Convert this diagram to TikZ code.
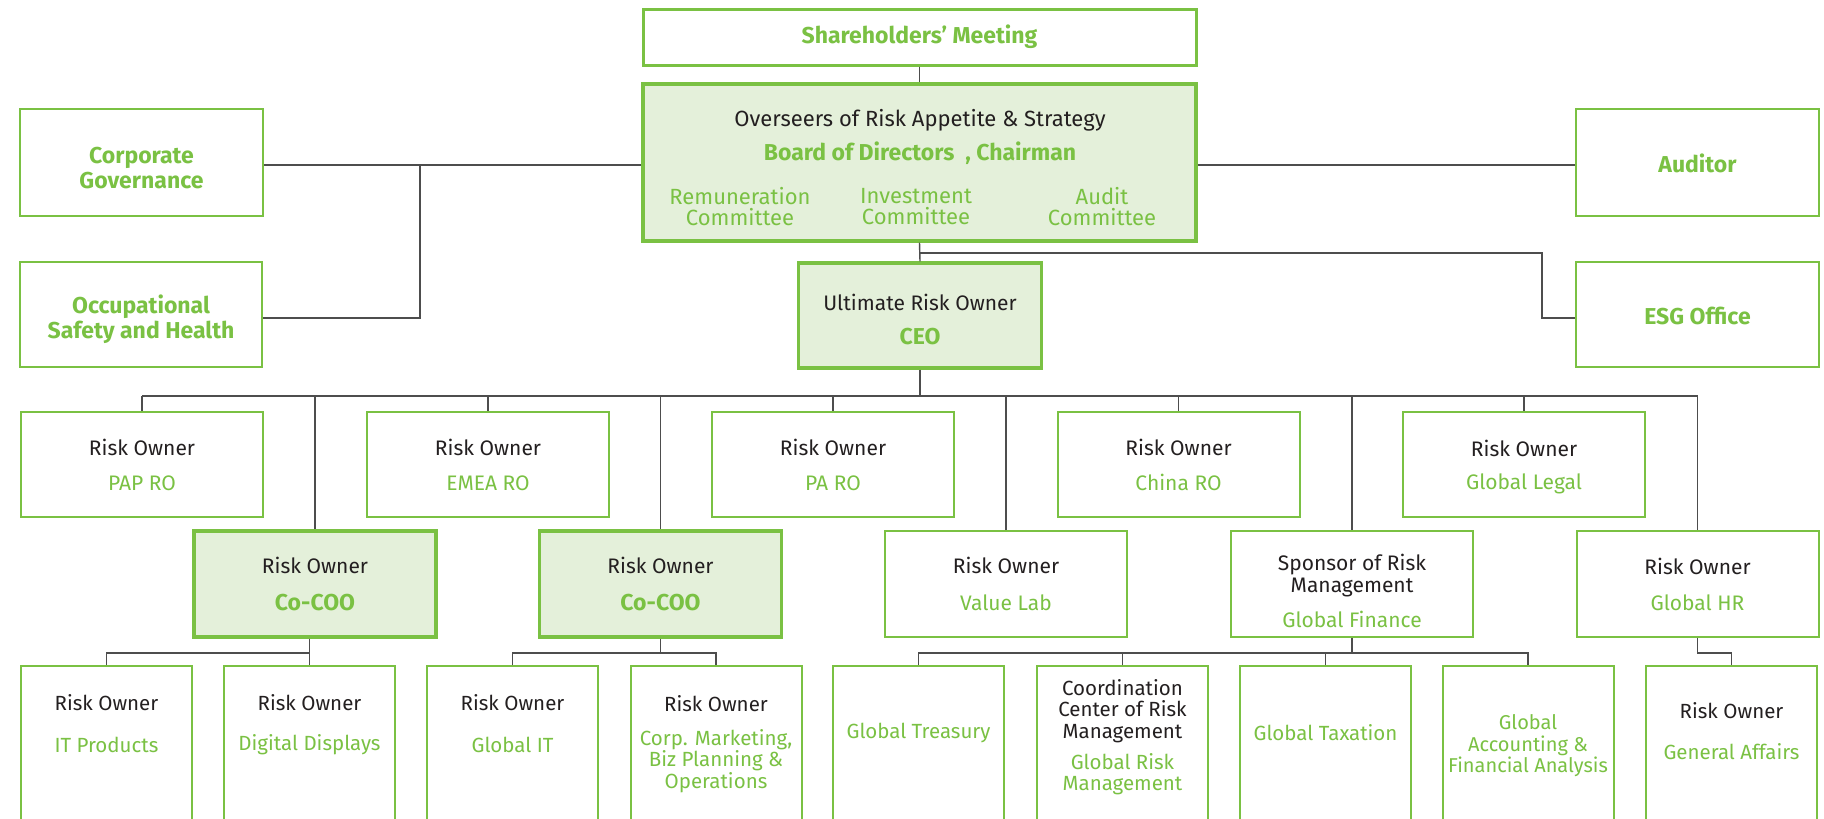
\documentclass[tikz,border=0pt]{standalone}
\usepackage{fontspec}
\setmainfont{Fira Sans}
\definecolor{gr}{HTML}{7AC143}
\definecolor{lg}{HTML}{E4F0DA}
\definecolor{ln}{HTML}{4D4D4D}
\definecolor{dk}{HTML}{231F20}
\tikzset{
  box/.style={draw=gr, line width=2pt, fill=white, minimum width=242pt, minimum height=105pt, inner sep=0pt, align=center, text=dk, font=\fontsize{21}{21.5}\selectfont},
  hbox/.style={box, fill=lg, line width=3.2pt},
  lowbox/.style={box, minimum width=171pt, minimum height=200pt},
  lbl/.style={inner sep=0pt, align=center, text=dk, font=\fontsize{21}{21.5}\selectfont},
  glbl/.style={lbl, text=gr},
  blbl/.style={lbl, font=\fontsize{22}{21.5}\selectfont},
  bglbl/.style={blbl, text=gr},
  slbl/.style={lbl, font=\fontsize{20.5}{21.5}\selectfont},
  sglbl/.style={slbl, text=gr},
  bgl/.style={inner sep=0pt, align=center, text=gr, font=\fontsize{23}{24.5}\selectfont\bfseries},
  conn/.style={draw=ln, line width=1.4pt}
}
\begin{document}
\begin{tikzpicture}[x=1pt,y=-1pt]
\useasboundingbox (0,0) rectangle (1824,819);
\clip (0,0) rectangle (1824,819);

% ---- top level
\node[box, line width=3pt, minimum width=553pt, minimum height=56pt, font=\fontsize{23}{24.5}\selectfont\bfseries, text=gr] (sh) at (919.5,37) {Shareholders’ Meeting};
\node[hbox, minimum width=553pt, minimum height=157pt] (board) at (919.5,162.5) {};
\node[blbl] (ov) at (920,120) {Overseers of Risk Appetite \& Strategy};
\node[bgl] (bod) at (920,153) {Board of Directors\ \ , Chairman};
\node[bglbl] (rem) at (740,206.5) {Remuneration\\Committee};
\node[bglbl] (inv) at (916,206.5) {Investment\\Committee};
\node[bglbl] (aud-c) at (1102,206.5) {Audit\\Committee};

\node[box, minimum width=243pt, minimum height=107pt] (cg) at (141.5,162.5) {};
\node[bgl] (cg-t) at (141.5,168) {Corporate\\Governance};
\node[box, minimum height=105pt] (osh) at (141,314.5) {};
\node[bgl] (osh-t) at (141,319) {Occupational\\Safety and Health};
\node[box, minimum width=243pt, minimum height=107pt] (aud) at (1697.5,162.5) {};
\node[bgl] (aud-t) at (1697.5,163.5) {Auditor};
\node[box, minimum width=243pt, minimum height=105pt] (esg) at (1697.5,314.5) {};
\node[bgl] (esg-t) at (1697.5,315.5) {ESG Office};

\node[hbox, minimum width=242.5pt, minimum height=105pt] (ceo) at (920,315.5) {};
\node[lbl] (ceo-a) at (920,302) {Ultimate Risk Owner};
\node[bgl] (ceo-b) at (920,337) {CEO};

% ---- row 1
\node[box] (pap) at (142,464.5) {Risk Owner\\[13.5pt]\textcolor{gr}{PAP RO}};
\node[box] (emea) at (488,464.5) {Risk Owner\\[13.5pt]\textcolor{gr}{EMEA RO}};
\node[box] (pa) at (833,464.5) {Risk Owner\\[13.5pt]\textcolor{gr}{PA RO}};
\node[box] (china) at (1178.5,464.5) {Risk Owner\\[13.5pt]\textcolor{gr}{China RO}};
\node[box] (legal) at (1524,464.5) {};
\node[lbl] (legal-a) at (1524,448) {Risk Owner};
\node[glbl] (legal-b) at (1524,484) {Global Legal};

% ---- row 2
\node[hbox, minimum height=106pt] (coo1) at (315,584) {Risk Owner\\[15.5pt]\textcolor{gr}{\fontsize{23}{24.5}\selectfont\bfseries Co-COO}};
\node[hbox, minimum height=106pt] (coo2) at (660.5,584) {Risk Owner\\[15.5pt]\textcolor{gr}{\fontsize{23}{24.5}\selectfont\bfseries Co-COO}};
\node[box, minimum height=106pt] (vl) at (1006,584) {Risk Owner\\[15.5pt]\textcolor{gr}{Value Lab}};
\node[box, minimum height=106pt] (spons) at (1352,584) {};
\node[lbl] (spons-a) at (1352,575.5) {Sponsor of Risk\\Management};
\node[glbl] (spons-b) at (1352,619) {Global Finance};
\node[box, minimum height=106pt] (hr) at (1697.5,584) {};
\node[lbl] (hr-a) at (1697.5,566) {Risk Owner};
\node[glbl] (hr-b) at (1697.5,603) {Global HR};

% ---- bottom row
\node[lowbox] (itp) at (106.5,766) {};
\node[lowbox] (dd) at (309.5,766) {};
\node[lowbox] (git) at (512.5,766) {};
\node[lowbox] (cmk) at (716,766) {};
\node[lowbox] (gt) at (918.5,766) {};
\node[lowbox] (ccr) at (1122.5,766) {};
\node[lowbox] (gtx) at (1325.5,766) {};
\node[lowbox] (gaf) at (1528,766) {};
\node[lowbox] (ga) at (1731.5,766) {};

\node[slbl] (itp-a) at (106.5,703) {Risk Owner};
\node[sglbl] (itp-b) at (106.5,745) {IT Products};
\node[slbl] (dd-a) at (309.5,703) {Risk Owner};
\node[sglbl] (dd-b) at (309.5,745) {Digital Displays};
\node[slbl] (git-a) at (512.5,703) {Risk Owner};
\node[sglbl] (git-b) at (512.5,745) {Global IT};
\node[slbl] (cmk-a) at (716,704) {Risk Owner};
\node[sglbl] (cmk-b) at (716,761) {Corp. Marketing,\\Biz Planning \&\\Operations};
\node[sglbl] (gt-a) at (918.5,733) {Global Treasury};
\node[slbl] (ccr-a) at (1122.5,711) {Coordination\\Center of Risk\\Management};
\node[sglbl] (ccr-b) at (1122.5,774) {Global Risk\\Management};
\node[sglbl] (gtx-a) at (1325.5,733) {Global Taxation};
\node[sglbl, font=\fontsize{20}{21.5}\selectfont] (gaf-a) at (1528,746) {Global\\Accounting \&\\Financial Analysis};
\node[slbl] (ga-a) at (1731.5,711) {Risk Owner};
\node[sglbl] (ga-b) at (1731.5,752) {General Affairs};

% ---- connectors
\coordinate (cgj) at (420,165);
\coordinate (oy) at (0,318);
\coordinate (ej) at (920,253);
\coordinate (ex) at (1542,253);
\coordinate (bus) at (0,396);
\coordinate (sb) at (0,653);

\draw[conn] (sh.south) -- (board.north);
\draw[conn] (board.south) -- (ceo.north);
\draw[conn] (cg.east |- cgj) -- (board.west |- cgj);
\draw[conn] (cgj) |- (osh.east |- oy);
\draw[conn] (aud.west |- cgj) -- (board.east |- cgj);
\draw[conn] (ej) -- (ex) -- (ex |- oy) -- (esg.west |- oy);

\draw[conn] (ceo.south) -- (ceo.south |- bus);
\draw[conn] (pap.north |- bus) -- (hr.north |- bus);
\foreach \n in {pap,coo1,emea,coo2,pa,vl,china,spons,legal,hr}
  \draw[conn] (\n.north |- bus) -- (\n.north);

\draw[conn] (dd.north |- coo1.south) -- (dd.north);
\draw[conn] (itp.north) -- (itp.north |- sb) -- (dd.north |- sb);
\draw[conn] (coo2.south) -- (coo2.south |- sb);
\draw[conn] (git.north) -- (git.north |- sb) -- (cmk.north |- sb) -- (cmk.north);
\draw[conn] (spons.south) -- (spons.south |- sb);
\draw[conn] (gt.north) -- (gt.north |- sb) -- (gaf.north |- sb) -- (gaf.north);
\draw[conn] (ccr.north) -- (ccr.north |- sb);
\draw[conn] (gtx.north) -- (gtx.north |- sb);
\draw[conn] (hr.south) -- (hr.south |- sb) -- (ga.north |- sb) -- (ga.north);
\end{tikzpicture}
\end{document}
